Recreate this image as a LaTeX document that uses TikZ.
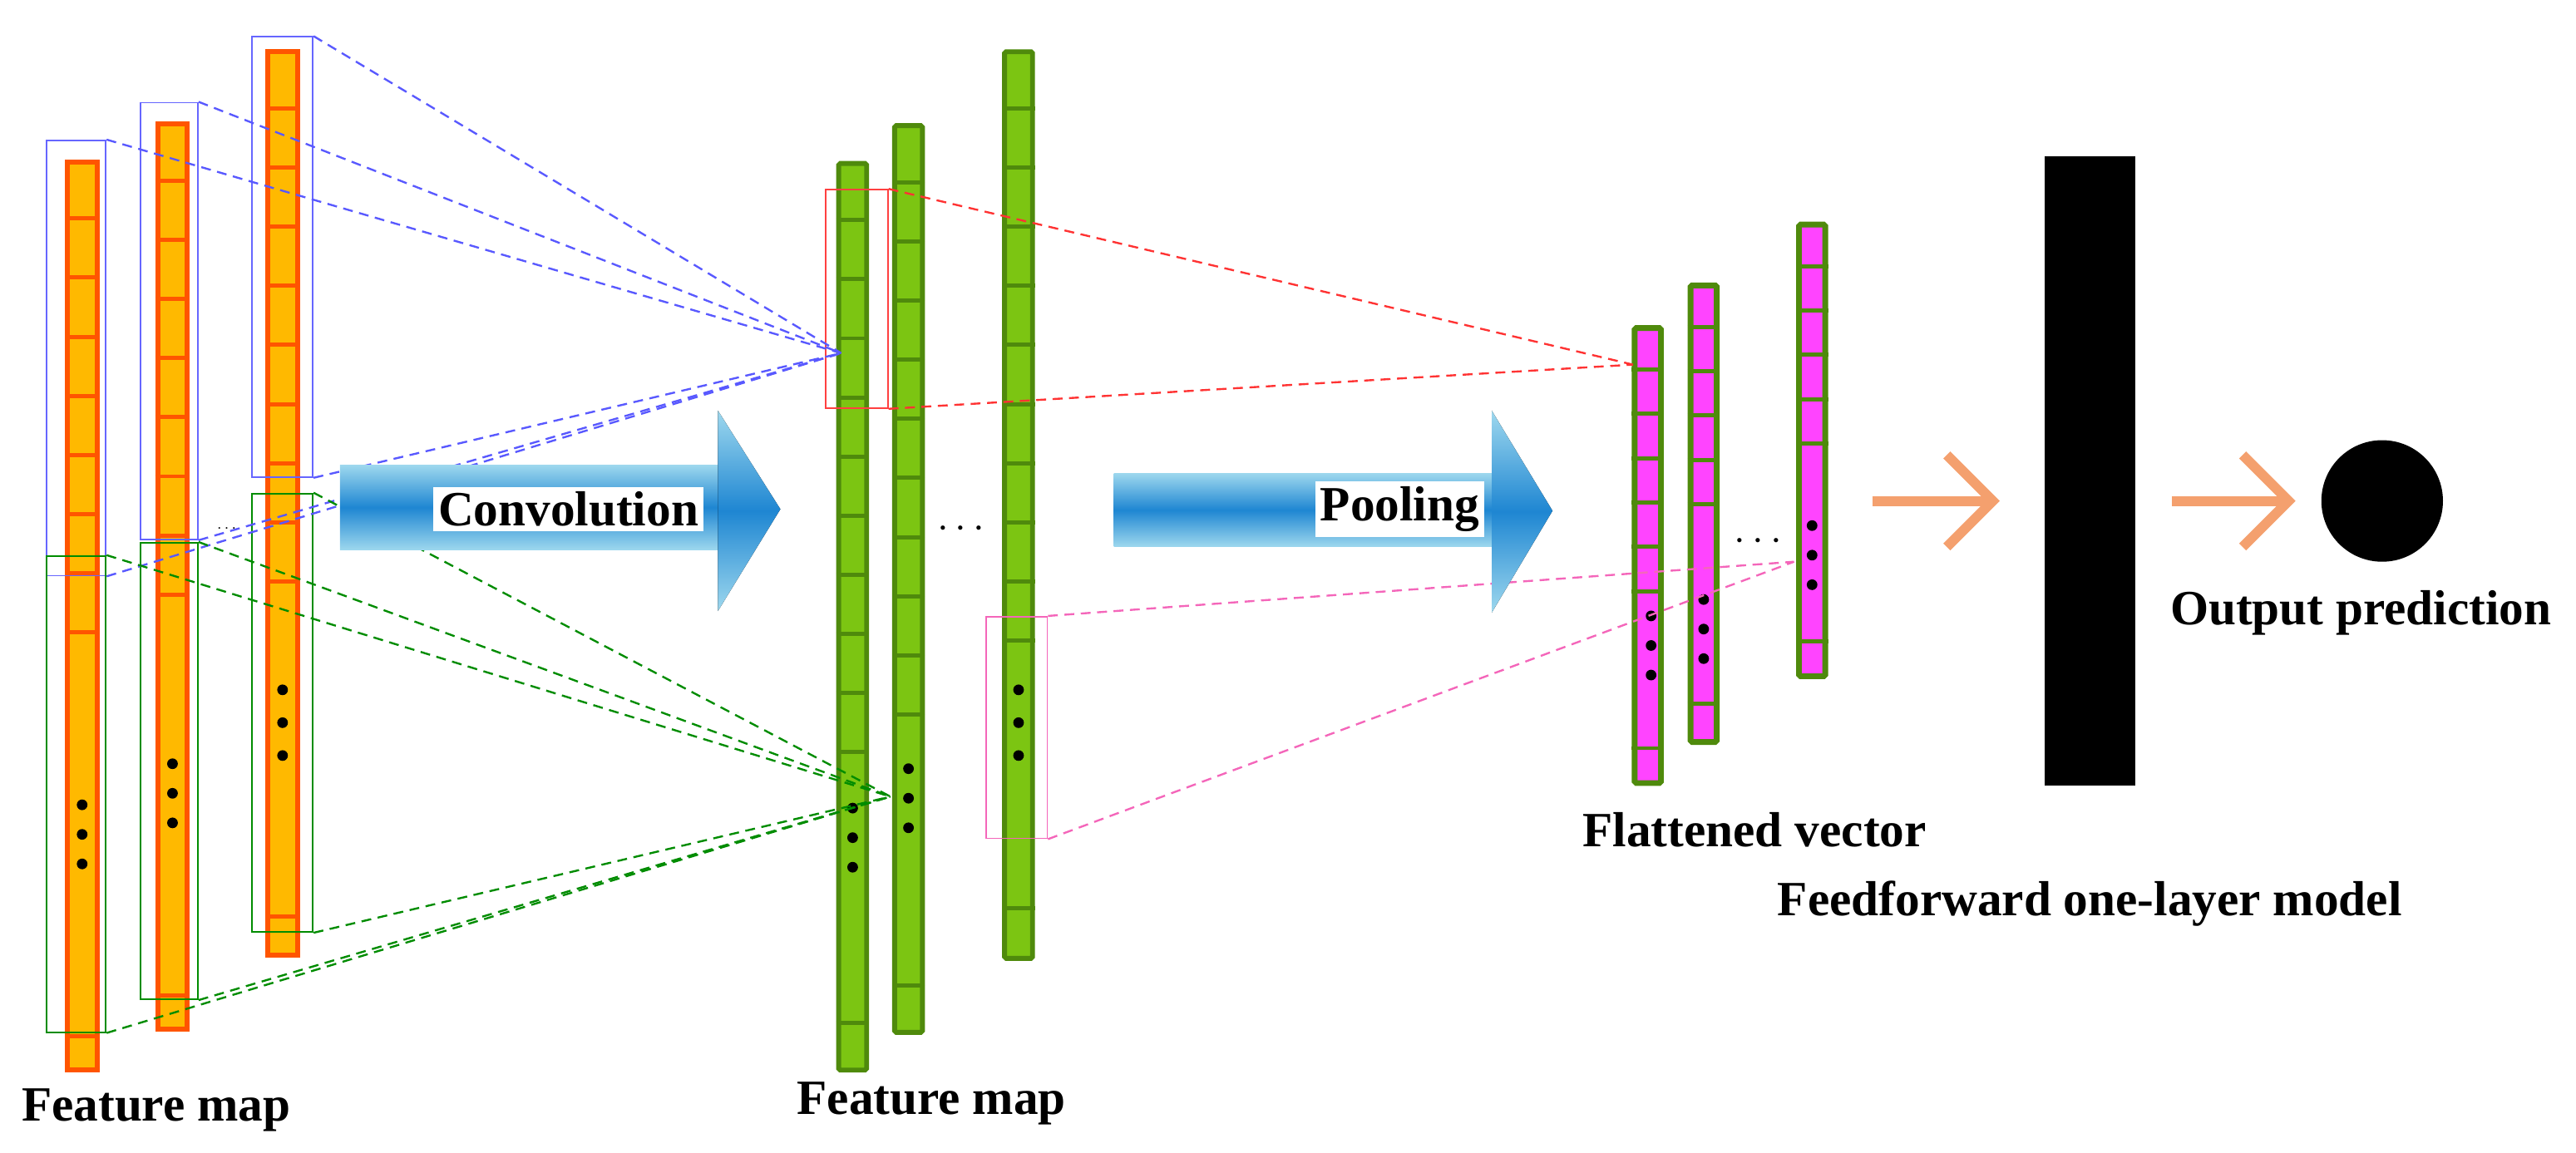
\documentclass[tikz,border=0pt]{standalone}
\usepackage{fontspec}
\setmainfont{Liberation Serif}
\usetikzlibrary{positioning,calc,arrows.meta}
\definecolor{ofill}{HTML}{FFB900}
\definecolor{oline}{HTML}{FF5500}
\definecolor{gfill}{HTML}{7CC512}
\definecolor{gline}{HTML}{4F8A0C}
\definecolor{mfill}{HTML}{FF44FF}
\definecolor{bdark}{HTML}{1E86D2}
\definecolor{blight}{HTML}{9ED8EE}
\definecolor{arr}{HTML}{F4A06E}
\tikzset{
    cnn/.style={x=1pt,y=-1pt,font=\fontsize{30}{34}\selectfont\bfseries},
    ostrip/.style={rectangle,draw=oline,fill=ofill,line width=3pt,minimum width=18pt,inner sep=0pt,anchor=north},
    gstrip/.style={rectangle,draw=gline,fill=gfill,line width=3pt,minimum width=17pt,inner sep=0pt,anchor=north,rounded corners=1pt},
    mstrip/.style={rectangle,draw=gline,fill=mfill,line width=3.5pt,minimum width=16pt,inner sep=0pt,anchor=north,rounded corners=1pt},
    win/.style={rectangle,draw,line width=0.9pt,fill=none,inner sep=0pt,anchor=north west},
    link/.style={dashed,line width=1.2pt,dash pattern=on 6pt off 4pt},
    dot/.style={circle,fill=black,inner sep=0pt,minimum size=6.5pt},
    lbl/.style={fill=white,inner sep=3pt},
    fat/.style={draw=none,top color=blight,bottom color=blight,middle color=bdark},
    chev/.style={arr,line width=6pt},
}
% strip: name, x, top, bottom, style, cells, cell height, last line from bottom
\newcommand\strip[8]{%
    \node[#5,minimum height={(#4-#3)*1pt}] (#1) at (#2,#3) {};
    \foreach \k in {1,...,#6}
        \draw[#5,line width=2.5pt] ([yshift={-\k*#7*1pt}]#1.north west) -- ([yshift={-\k*#7*1pt}]#1.north east);
    \draw[#5,line width=2.5pt] ([yshift={#8*1pt}]#1.south west) -- ([yshift={#8*1pt}]#1.south east);
}
\newcommand\threedots[3]{%
    \foreach \d in {0,1,2} \node[dot] at (#1,{#2+\d*#3}) {};
}
\begin{document}
\begin{tikzpicture}[cnn]
\useasboundingbox (0,0) rectangle (1568,702);

% input feature maps
\strip{o1}{50}{97}{650}{ostrip}{8}{36}{22}
\strip{o2}{105}{74}{625}{ostrip}{8}{36}{22}
\strip{o3}{172}{30}{580}{ostrip}{9}{36}{25}
\threedots{50}{490}{18}
\threedots{105}{465}{18}
\threedots{172}{420}{20}
\node[font=\normalsize] (odots) at (138,322) {$\cdots$};

% windows
\node[win,draw=blue!60,minimum width=36pt,minimum height=265pt] (b1) at (28,85) {};
\node[win,draw=blue!60,minimum width=35pt,minimum height=266pt] (b2) at (85,62) {};
\node[win,draw=blue!60,minimum width=37pt,minimum height=268pt] (b3) at (153,22) {};
\node[win,draw=green!55!black,minimum width=36pt,minimum height=290pt] (g1) at (28,338) {};
\node[win,draw=green!55!black,minimum width=35pt,minimum height=278pt] (g2) at (85,330) {};
\node[win,draw=green!55!black,minimum width=37pt,minimum height=267pt] (g3) at (153,300) {};

% convolved feature maps
\strip{c1}{519}{98}{650}{gstrip}{10}{36}{30}
\strip{c2}{553}{75}{627}{gstrip}{10}{36}{30}
\strip{c3}{620}{30}{582}{gstrip}{10}{36}{32}
\threedots{519}{492}{18}
\threedots{553}{468}{18}
\threedots{620}{420}{20}
\node (cdots) at (585,322) {$\cdots$};
\node[win,draw=red!75,minimum width=38pt,minimum height=133pt] (r1) at (502,115) {};
\node[win,draw=magenta!60,minimum width=37pt,minimum height=135pt] (p1) at (600,375) {};

% flattened vector
\strip{f1}{1003}{198}{475}{mstrip}{6}{27}{23}
\strip{f2}{1037}{172}{450}{mstrip}{5}{27}{25}
\strip{f3}{1103}{135}{410}{mstrip}{5}{27}{23}
\threedots{1005}{375}{18}
\threedots{1037}{365}{18}
\threedots{1103}{320}{18}
\node (fdots) at (1070,330) {$\cdots$};

\coordinate (cb) at (512,215);
\coordinate (cg) at (542,485);
\coordinate (fr) at (994,222);
\coordinate (fp) at (1092,342);

\foreach \w in {b1,b2,b3}
    \draw[link,blue!65] (\w.north east) -- (cb) (\w.south east) -- (cb);
\foreach \w in {g1,g2,g3}
    \draw[link,green!55!black] (\w.north east) -- (cg) (\w.south east) -- (cg);
\draw[link,red!80] (r1.north east) -- (fr) (r1.south east) -- (fr);
\draw[link,magenta!60] (p1.north east) -- (fp) (p1.south east) -- (fp);

% operation arrows
\fill[fat] (207,283) rectangle (438,335);
\fill[fat] (437,250) -- (475,310) -- (437,372) -- cycle;
\node[lbl] (conv) at (346,310) {Convolution};
\fill[fat] (678,288) rectangle (910,333);
\fill[fat] (908,250) -- (945,311) -- (908,373) -- cycle;
\node[lbl] (pool) at (852,310) {Pooling};

% dense layer and output
\node[rectangle,fill=black,minimum width=55pt,minimum height=383pt,anchor=north,inner sep=0pt] (dense) at (1272,95) {};
\node[circle,fill=black,minimum size=74pt,inner sep=0pt] (out) at (1450,305) {};
\coordinate (a1) at (1140,305);
\coordinate (a2) at (1322,305);
\draw[chev] (a1) -- ++(70,0);
\draw[chev,line join=miter] ($(a1)+(45,-28)$) -- ($(a1)+(73,0)$) -- ($(a1)+(45,28)$);
\draw[chev] (a2) -- ++(68,0);
\draw[chev,line join=miter] ($(a2)+(43,-28)$) -- ($(a2)+(71,0)$) -- ($(a2)+(43,28)$);

% labels
\node (t1) at (95,676) {Feature map};
\node (t2) at (567,672) {Feature map};
\node (t3) at (1068,505) {Flattened vector};
\node (t4) at (1272,550) {Feedforward one-layer model};
\node (t5) at (1437,373) {Output prediction};
\end{tikzpicture}
\end{document}
